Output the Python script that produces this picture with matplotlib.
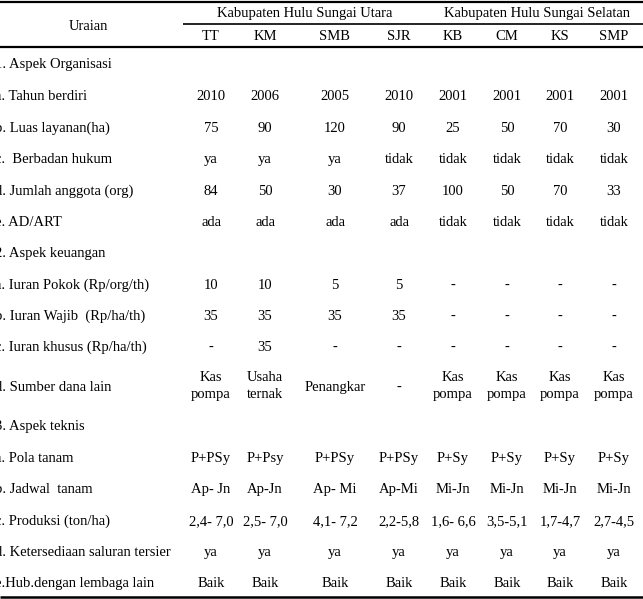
import matplotlib.pyplot as plt

plt.rcParams['font.family'] = ['Liberation Serif', 'DejaVu Serif']

# table content
groups = ['Kabupaten Hulu Sungai Utara', 'Kabupaten Hulu Sungai Selatan']
columns = ['TT', 'KM', 'SMB', 'SJR', 'KB', 'CM', 'KS', 'SMP']

row_labels = [
    '1. Aspek Organisasi',
    'a. Tahun berdiri',
    'b. Luas layanan(ha)',
    'c.  Berbadan hukum',
    'd. Jumlah anggota (org)',
    'e. AD/ART',
    '2. Aspek keuangan',
    'a. Iuran Pokok (Rp/org/th)',
    'b. Iuran Wajib  (Rp/ha/th)',
    'c. Iuran khusus (Rp/ha/th)',
    'd. Sumber dana lain',
    '3. Aspek teknis',
    'a. Pola tanam',
    'b. Jadwal  tanam',
    'c. Produksi (ton/ha)',
    'd. Ketersediaan saluran tersier',
    'e.Hub.dengan lembaga lain',
]

tahun_berdiri = ['2010', '2006', '2005', '2010', '2001', '2001', '2001', '2001']
luas_layanan = ['75', '90', '120', '90', '25', '50', '70', '30']
berbadan_hukum = ['ya', 'ya', 'ya', 'tidak', 'tidak', 'tidak', 'tidak', 'tidak']
jumlah_anggota = ['84', '50', '30', '37', '100', '50', '70', '33']
ad_art = ['ada', 'ada', 'ada', 'ada', 'tidak', 'tidak', 'tidak', 'tidak']
iuran_pokok = ['10', '10', '5', '5', '-', '-', '-', '-']
iuran_wajib = ['35', '35', '35', '35', '-', '-', '-', '-']
iuran_khusus = ['-', '35', '-', '-', '-', '-', '-', '-']
sumber_dana = ['Kas\npompa', 'Usaha\nternak', 'Penangkar', '-',
               'Kas\npompa', 'Kas\npompa', 'Kas\npompa', 'Kas\npompa']
pola_tanam = ['P+PSy', 'P+Psy', 'P+PSy', 'P+PSy', 'P+Sy', 'P+Sy', 'P+Sy', 'P+Sy']
jadwal_tanam = ['Ap- Jn', 'Ap-Jn', 'Ap- Mi', 'Ap-Mi', 'Mi-Jn', 'Mi-Jn', 'Mi-Jn', 'Mi-Jn']
produksi = ['2,4- 7,0', '2,5- 7,0', '4,1- 7,2', '2,2-5,8',
            '1,6- 6,6', '3,5-5,1', '1,7-4,7', '2,7-4,5']
saluran_tersier = ['ya'] * 8
hubungan = ['Baik'] * 8

row_values = [None, tahun_berdiri, luas_layanan, berbadan_hukum, jumlah_anggota, ad_art,
              None, iuran_pokok, iuran_wajib, iuran_khusus, sumber_dana,
              None, pola_tanam, jadwal_tanam, produksi, saluran_tersier, hubungan]

# layout in pixels
W, H = 643, 599
col_x = [211, 265, 335, 399, 453, 507, 560, 614]
row_y = [63, 95, 127, 158, 190, 221, 252, 284, 315, 346, 386, 425, 457, 488, 520, 551, 582]
fs = 10.5

fig = plt.figure(figsize=(W / 100, H / 100), dpi=100)
ax = fig.add_axes([0, 0, 1, 1])
ax.set_xlim(0, W)
ax.set_ylim(H, 0)
ax.axis('off')

# rules
ax.plot([0, W], [2, 2], color='black', lw=1.6, solid_capstyle='butt')
ax.plot([183, W], [24, 24], color='black', lw=1.2, solid_capstyle='butt')
ax.plot([0, W], [47, 47], color='black', lw=1.6, solid_capstyle='butt')
ax.plot([0, W], [597, 597], color='black', lw=1.8, solid_capstyle='butt')

# header
ax.text(88, 25, 'Uraian', ha='center', va='center_baseline', fontsize=fs)
ax.text(305, 12, groups[0], ha='center', va='center_baseline', fontsize=fs)
ax.text(537, 12, groups[1], ha='center', va='center_baseline', fontsize=fs)
for x, c in zip(col_x, columns):
    ax.text(x, 35, c, ha='center', va='center_baseline', fontsize=fs)

# body; first letter of each label is cut by the left edge as in the source
for y, label, vals in zip(row_y, row_labels, row_values):
    ax.text(-5, y, label, ha='left', va='center_baseline', fontsize=fs, clip_on=False)
    if vals is None:
        continue
    for x, v in zip(col_x, vals):
        if '\n' in v:
            ax.text(x, y, v, ha='center', va='center', fontsize=fs, linespacing=1.35)
        else:
            ax.text(x, y, v, ha='center', va='center_baseline', fontsize=fs)

fig.savefig('out.png', dpi=100)
